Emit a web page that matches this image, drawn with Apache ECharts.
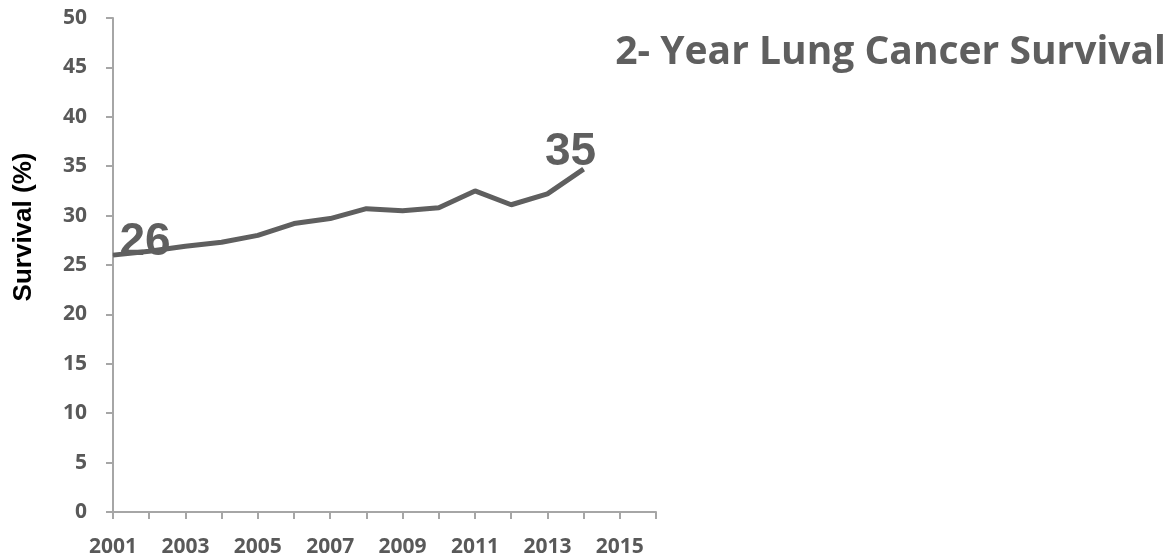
<!DOCTYPE html>
<html>
<head>
<meta charset="utf-8">
<script src="https://cdn.jsdelivr.net/npm/echarts@6/dist/echarts.min.js"></script>
<style>
  html, body { margin: 0; padding: 0; background: #fff; }
  #chart { width: 1173px; height: 558px; }
</style>
</head>
<body>
<div id="chart"></div>
<script>
// years on the axis (ticks every year, labels every other year)
var years = ['2001','2002','2003','2004','2005','2006','2007','2008',
             '2009','2010','2011','2012','2013','2014','2015','2016'];
// 2-year survival (%), no data for 2015 and 2016
var survival = [26.0, 26.4, 26.9, 27.3, 28.0, 29.2, 29.7, 30.7,
                30.5, 30.8, 32.5, 31.1, 32.2, 34.7, null, null];
var firstLabel = '26';
var lastLabel = '35';

var grey = '#5f5f5f';

var seriesData = survival.map(function (v, i) {
  if (i === 0) {
    return { value: v, label: { show: true, formatter: firstLabel, offset: [32, -13] } };
  }
  if (i === 13) {
    return { value: v, label: { show: true, formatter: lastLabel, offset: [-13, -17] } };
  }
  return v;
});

var chart = echarts.init(document.getElementById('chart'));
chart.setOption({
  animation: false,
  title: {
    text: '2- Year Lung Cancer Survival',
    right: 2,
    top: 28,
    textStyle: {
      fontFamily: 'Open Sans',
      fontWeight: 'bold',
      fontSize: 39,
      color: grey
    }
  },
  graphic: [{
    type: 'text',
    x: 24,
    y: 227,
    rotation: Math.PI / 2,
    style: {
      text: 'Survival (%)',
      font: 'bold 26px "Liberation Sans", Arial',
      fill: '#000',
      align: 'center',
      verticalAlign: 'middle'
    }
  }],
  grid: { left: 113, right: 517, top: 18, bottom: 46 },
  xAxis: {
    type: 'category',
    data: years,
    boundaryGap: false,
    axisLine: { lineStyle: { color: '#a6a6a6', width: 2 } },
    axisTick: { show: true, interval: 0, length: 7, lineStyle: { color: '#a6a6a6', width: 2 } },
    axisLabel: {
      interval: 1,
      margin: 25,
      fontFamily: 'Open Sans',
      fontWeight: 'bold',
      fontSize: 21,
      color: '#595959'
    },
    splitLine: { show: false }
  },
  yAxis: {
    type: 'value',
    min: 0,
    max: 50,
    interval: 5,
    axisLine: { show: true, lineStyle: { color: '#a6a6a6', width: 2 } },
    axisTick: { show: true, length: 7, lineStyle: { color: '#a6a6a6', width: 2 } },
    axisLabel: {
      margin: 26,
      fontFamily: 'Open Sans',
      fontWeight: 'bold',
      fontSize: 21,
      color: '#595959'
    },
    splitLine: { show: false }
  },
  series: [{
    type: 'line',
    data: seriesData,
    symbol: 'circle',
    symbolSize: 1,
    showSymbol: true,
    itemStyle: { color: grey },
    lineStyle: { color: grey, width: 5 },
    label: {
      position: 'inside',
      fontFamily: 'Liberation Sans',
      fontWeight: 'bold',
      fontSize: 46,
      color: grey
    }
  }]
});
</script>
</body>
</html>
